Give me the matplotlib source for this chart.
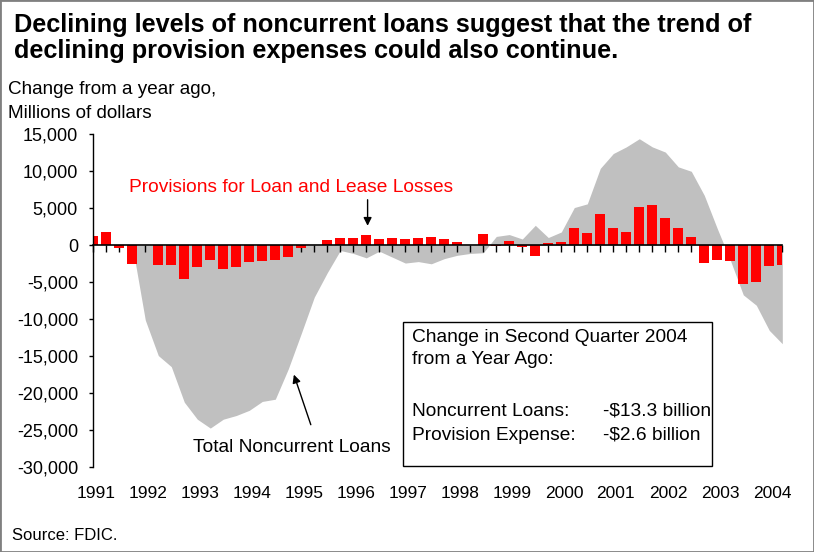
import numpy as np
import matplotlib.pyplot as plt
from matplotlib.patches import Rectangle
from matplotlib.transforms import blended_transform_factory

plt.rcParams["font.family"] = ["Liberation Sans", "DejaVu Sans"]

# quarterly, 1991Q1 .. 2004Q2, change from a year ago ($ millions)
years = list(range(1991, 2005))

provisions = [
    1200, 1750, -350, -2550,
    0, -2700, -2700, -4600,
    -2950, -2000, -3250, -2950,
    -2300, -2150, -2000, -1600,
    -350, 0, 700, 950,
    950, 1350, 800, 950,
    800, 950, 1100, 800,
    400, 0, 1500, -100,
    550, -250, -1500, 250,
    400, 2400, 1650, 4250,
    2400, 1750, 5150, 5400,
    3650, 2400, 1100, -2400,
    -2000, -2100, -5200, -5000,
    -2800, -2600,
]

noncurrent = [
    0, 0, 0, 0,
    -10100, -14900, -16400, -21200,
    -23500, -24700, -23500, -23000,
    -22300, -21100, -20800, -16700,
    -11900, -7000, -3700, -700,
    -1100, -1700, -800, -1600,
    -2400, -2200, -2500, -1800,
    -1350, -1100, -1000, 1200,
    1450, 850, 2700, 1050,
    1800, 5100, 5600, 10400,
    12400, 13300, 14400, 13300,
    12600, 10600, 10000, 6750,
    2250, -2000, -6700, -8100,
    -11500, -13300,
]

yticks = list(range(-30000, 15001, 5000))

W, H = 814, 552
fig = plt.figure(figsize=(W / 100, H / 100), dpi=100)
ax = fig.add_axes([93.3 / W, 1 - 467.3 / H, 689 / W, 333 / H])

x = np.arange(len(provisions))
ax.fill_between(x, noncurrent, 0, color="#c0c0c0", lw=0, zorder=1)
ax.bar(x, provisions, width=0.77, color="#ff0000", zorder=2)

ax.set_xlim(0, len(x) - 1)
ax.set_ylim(-30000, 15000)

for side in ("top", "right"):
    ax.spines[side].set_visible(False)
ax.spines["bottom"].set_position(("data", 0))
ax.spines["bottom"].set_zorder(3)
ax.spines["left"].set_linewidth(1)
ax.spines["bottom"].set_linewidth(1.2)

ax.set_xticks(x)
ax.tick_params(axis="x", direction="out", length=5, width=1, labelbottom=False)
ax.set_yticks(yticks)
ax.set_yticklabels([f"{v:,}" for v in yticks])
ax.tick_params(axis="y", direction="out", length=3, width=1, pad=8, labelsize=13)

# year labels under the plot, one per first quarter
trans = blended_transform_factory(ax.transData, ax.transAxes)
for k, yr in enumerate(years):
    ax.text(4 * k + 0.2, -0.08, str(yr), transform=trans, ha="center",
            va="center", fontsize=12.5)

ax.text(15.2, 7840, "Provisions for Loan and Lease Losses", color="#ff0000",
        ha="center", va="center", fontsize=13.8)
ax.annotate("", xy=(21.1, 2260), xytext=(21.1, 6530),
            arrowprops=dict(arrowstyle="-|>", color="black", lw=1,
                            mutation_scale=12))

ax.text(15.3, -27300, "Total Noncurrent Loans", ha="center", va="center",
        fontsize=13.8)
ax.annotate("", xy=(15.36, -17120), xytext=(16.8, -24600),
            arrowprops=dict(arrowstyle="-|>", color="black", lw=1,
                            mutation_scale=12))

# summary box
fig.patches.append(Rectangle((403 / W, 1 - 466 / H), 309 / W, 144 / H,
                             transform=fig.transFigure, facecolor="white",
                             edgecolor="black", lw=1, zorder=5))
box_lines = [
    (338, "Change in Second Quarter 2004", None),
    (360, "from a Year Ago:", None),
    (411, "Noncurrent Loans:", "-$13.3 billion"),
    (435, "Provision Expense:", "-$2.6 billion"),
]
for py, left, right in box_lines:
    fig.text(412 / W, 1 - py / H, left, ha="left", va="center", fontsize=13.8,
             zorder=6)
    if right:
        fig.text(603 / W, 1 - py / H, right, ha="left", va="center",
                 fontsize=13.8, zorder=6)

fig.text(14 / W, 1 - 31.7 / H,
         "Declining levels of noncurrent loans suggest that the trend of",
         fontsize=18.2, fontweight="bold", va="baseline")
fig.text(14 / W, 1 - 58.3 / H,
         "declining provision expenses could also continue.",
         fontsize=18.2, fontweight="bold", va="baseline")
fig.text(8 / W, 1 - 94.3 / H, "Change from a year ago,", fontsize=13.6,
         va="baseline")
fig.text(8 / W, 1 - 118.3 / H, "Millions of dollars", fontsize=13.6,
         va="baseline")
fig.text(12 / W, 1 - 536 / H, "Source: FDIC.", fontsize=12, va="center")

fig.patches.append(Rectangle((0, 0), 1, 1, transform=fig.transFigure,
                             fill=False, edgecolor="#808080", lw=2))

fig.savefig("out.png", dpi=100)
